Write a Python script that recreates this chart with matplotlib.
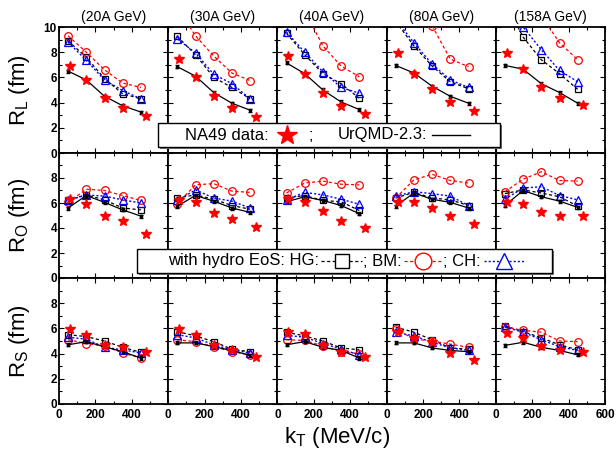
import matplotlib
matplotlib.use('Agg')
import matplotlib.pyplot as plt
from matplotlib.lines import Line2D
from matplotlib.patches import Rectangle

plt.rcParams['font.family'] = ['Liberation Sans', 'DejaVu Sans']

# ---------------- data ----------------
energies = ['(20A GeV)', '(30A GeV)', '(40A GeV)', '(80A GeV)', '(158A GeV)']
kt_model = [50, 150, 250, 350, 450]
kt_data = [60, 150, 250, 350, 480]

# R_L
rl_hg = [[8.9, 7.6, 5.9, 4.7, 4.3], [9.25, 7.8, 6.0, 5.2, 4.3], [9.5, 7.8, 6.3, 5.5, 4.35],
         [10.45, 8.5, 6.9, 5.65, 5.1], [12.0, 9.2, 7.4, 6.3, 5.05]]
rl_bm = [[9.3, 8.0, 6.6, 5.55, 5.2], [11.5, 9.3, 7.7, 6.35, 5.75], [13.0, 11.3, 8.5, 6.9, 6.05],
         [14.0, 12.0, 10.1, 7.45, 6.85], [15.0, 13.0, 10.9, 8.75, 7.4]]
rl_ch = [[8.8, 7.35, 5.8, 4.95, 4.3], [9.05, 7.95, 6.25, 5.5, 4.3], [9.6, 8.0, 6.45, 5.2, 4.75],
         [10.6, 8.75, 7.05, 5.8, 5.2], [12.5, 10.0, 8.2, 6.55, 5.65]]
rl_urqmd = [[6.5, 5.8, 4.5, 3.75, 3.25], [6.85, 6.1, 4.8, 3.95, 3.4], [7.15, 6.3, 5.0, 4.05, 3.45],
            [6.95, 6.35, 5.3, 4.5, 3.95], [6.95, 6.65, 5.5, 4.8, 3.95]]
rl_na49 = [[6.9, 5.8, 4.4, 3.55, 2.95], [7.45, 6.05, 4.5, 3.55, 2.85], [7.7, 6.3, 4.75, 3.75, 3.1],
           [7.9, 6.25, 5.1, 4.05, 3.35], [7.9, 6.65, 5.2, 4.4, 3.8]]

# R_O
ro_hg = [[6.25, 6.65, 6.25, 5.6, 5.45], [6.4, 6.65, 6.3, 5.8, 5.5], [6.4, 6.6, 6.2, 6.1, 5.4],
         [6.4, 6.85, 6.4, 6.25, 5.8], [6.75, 7.05, 6.8, 6.5, 5.75]]
ro_bm = [[6.05, 7.1, 7.0, 6.6, 6.2], [5.95, 7.45, 7.55, 6.95, 6.85], [6.8, 7.6, 7.75, 7.5, 7.45],
         [6.4, 7.85, 8.3, 7.8, 7.6], [6.9, 7.9, 8.5, 7.8, 7.75]]
ro_ch = [[6.2, 6.65, 6.55, 6.25, 6.0], [6.2, 7.05, 6.4, 6.15, 5.6], [6.25, 6.85, 6.65, 6.3, 5.9],
         [6.55, 6.9, 6.75, 6.55, 5.8], [6.3, 7.2, 7.3, 6.6, 6.25]]
ro_urqmd = [[5.6, 6.6, 6.05, 5.45, 4.95], [5.75, 6.6, 6.15, 5.6, 5.25], [6.1, 6.5, 6.2, 5.8, 5.15],
            [5.75, 6.8, 6.3, 6.05, 5.6], [5.8, 7.0, 6.5, 6.15, 5.65]]
ro_na49 = [[6.3, 5.95, 5.0, 4.55, 3.55], [6.2, 6.05, 5.2, 4.7, 4.05], [6.3, 6.05, 5.35, 4.6, 4.0],
           [6.05, 6.05, 5.6, 4.95, 4.3], [6.05, 5.95, 5.3, 5.0, 5.0]]

# R_S
rs_hg = [[5.5, 5.35, 5.0, 4.5, 4.1], [5.75, 5.4, 4.95, 4.35, 4.15], [5.7, 5.4, 5.0, 4.45, 4.3],
         [6.1, 5.7, 5.1, 4.45, 4.35], [6.2, 5.75, 5.25, 4.7, 4.3]]
rs_bm = [[5.1, 4.8, 4.6, 4.05, 3.65], [5.1, 4.95, 4.55, 4.15, 3.9], [5.1, 5.05, 4.6, 4.15, 4.0],
         [5.95, 5.15, 5.0, 4.75, 4.5], [6.1, 5.85, 5.7, 5.0, 4.95]]
rs_ch = [[5.3, 5.15, 4.5, 4.3, 4.05], [5.5, 5.25, 4.7, 4.3, 4.05], [5.45, 5.3, 4.8, 4.35, 3.9],
         [5.7, 5.4, 4.9, 4.45, 4.25], [6.1, 5.7, 5.1, 4.55, 4.25]]
rs_urqmd = [[4.7, 4.95, 4.55, 4.15, 3.65], [4.85, 4.85, 4.55, 4.25, 3.85], [4.7, 4.95, 4.5, 4.25, 3.65],
            [4.85, 4.85, 4.45, 4.25, 4.15], [4.65, 4.9, 4.5, 4.25, 3.9]]
rs_na49 = [[5.95, 5.5, 4.65, 4.5, 4.1], [5.95, 5.5, 4.7, 4.3, 3.7], [5.7, 5.55, 4.65, 4.15, 3.7],
           [5.75, 5.25, 4.95, 4.05, 3.5], [5.6, 5.25, 4.6, 4.3, 4.15]]

rows = [
    ('R$_\\mathregular{L}$ (fm)', rl_hg, rl_bm, rl_ch, rl_urqmd, rl_na49),
    ('R$_\\mathregular{O}$ (fm)', ro_hg, ro_bm, ro_ch, ro_urqmd, ro_na49),
    ('R$_\\mathregular{S}$ (fm)', rs_hg, rs_bm, rs_ch, rs_urqmd, rs_na49),
]

# ---------------- figure ----------------
W, H = 616, 455
fig = plt.figure(figsize=(W / 100, H / 100), dpi=100)


def fx(x):
    return x / W


def fy(y):
    return 1 - y / H


left, right = 59, 605
row_edges = [27, 153, 278, 404]
pw = (right - left) / 5

dash = (0, (2.5, 2))
dots = (0, (1.5, 1.5))
for r, (ylab, hg, bm, ch, urq, na49) in enumerate(rows):
    top, bot = row_edges[r], row_edges[r + 1]
    for c in range(5):
        ax = fig.add_axes([fx(left + c * pw), fy(bot), pw / W, (bot - top) / H])
        ax.plot(kt_model, hg[c], color='black', ls=dash, lw=0.9, marker='s', ms=4.5,
                mfc='none', mec='black', mew=0.9, zorder=3)
        ax.plot(kt_model, bm[c], color='red', ls=dash, lw=0.9, marker='o', ms=5.5,
                mfc='none', mec='red', mew=0.9, zorder=3)
        ax.plot(kt_model, ch[c], color='blue', ls=dots, lw=1.0, marker='^', ms=5.5,
                mfc='none', mec='blue', mew=0.9, zorder=4)
        ax.errorbar(kt_model, urq[c], yerr=0.12, color='black', lw=0.9, marker='s', ms=1.5,
                    capsize=1.5, elinewidth=0.8, zorder=5)
        ax.plot(kt_data, na49[c], ls='none', marker='*', ms=7.5, color='red', mec='red', zorder=6)

        ax.set_xlim(0, 600)
        ax.set_ylim(0, 10)
        ax.set_xticks([0, 200, 400, 600])
        ax.set_xticks([100, 300, 500], minor=True)
        ax.set_yticks([0, 2, 4, 6, 8, 10])
        ax.set_yticks([1, 3, 5, 7, 9], minor=True)
        ax.tick_params(which='both', direction='in', top=True, right=True, width=0.8)
        ax.tick_params(which='major', length=3.5)
        ax.tick_params(which='minor', length=2)
        for s in ax.spines.values():
            s.set_linewidth(1.3)

        if r == 2:
            xl = ['0', '200', '400', '600' if c == 4 else '']
            ax.set_xticklabels(xl, fontweight='bold', fontsize=8.5)
        else:
            ax.set_xticklabels([])
        if c == 0:
            yl = ['0', '2', '4', '6', '8', '10' if r == 0 else '']
            ax.set_yticklabels(yl, fontweight='bold', fontsize=8.5)
            ax.tick_params(axis='y', pad=1.5)
        else:
            ax.set_yticklabels([])
        if r == 0:
            ax.set_title(energies[c], fontsize=10, pad=4)

    fig.text(fx(20), fy((top + bot) / 2), ylab, rotation=90, fontsize=16,
             ha='center', va='center')

fig.text(fx(337), fy(437), 'k$_\\mathregular{T}$ (MeV/c)', fontsize=16, ha='center', va='center')


# ---------------- legend boxes ----------------
def box(x0, y0, x1, y1):
    fig.add_artist(Rectangle((fx(x0 + 2), fy(y1 + 2)), (x1 - x0) / W, (y1 - y0) / H,
                             transform=fig.transFigure, facecolor='0.45', edgecolor='none', zorder=10))
    fig.add_artist(Rectangle((fx(x0), fy(y1)), (x1 - x0) / W, (y1 - y0) / H,
                             transform=fig.transFigure, facecolor='white', edgecolor='black',
                             lw=1.0, zorder=11))


def ftext(x, y, s):
    fig.text(fx(x), fy(y), s, fontsize=12, ha='left', va='center', zorder=12)


def fline(x0, x1, y, **kw):
    fig.add_artist(Line2D([fx(x0), fx(x1)], [fy(y), fy(y)], transform=fig.transFigure,
                          zorder=12, **kw))


def fmark(x, y, **kw):
    fig.add_artist(Line2D([fx(x)], [fy(y)], transform=fig.transFigure, ls='none',
                          zorder=13, **kw))


# box 1
box(158, 123, 500, 147)
yc = 135
ftext(185, yc, 'NA49 data:')
fmark(287, yc, marker='*', ms=15, color='red')
ftext(309, yc, ';')
ftext(338, yc, 'UrQMD-2.3:')
fline(432, 470, yc, color='black', lw=1.0)

# box 2
box(137, 249, 552, 273)
yc = 261
ftext(168, yc, 'with hydro EoS: HG:')
fline(321, 362, yc, color='black', ls=dash, lw=0.9)
fmark(342, yc, marker='s', ms=10, mfc='white', mec='black', mew=1.0)
ftext(363, yc, '; BM:')
fline(404, 443, yc, color='red', ls=dash, lw=0.9)
fmark(423, yc, marker='o', ms=12, mfc='white', mec='red', mew=1.0)
ftext(443, yc, '; CH:')
fline(484, 524, yc, color='blue', ls=dots, lw=1.0)
fmark(504, yc, marker='^', ms=12, mfc='white', mec='blue', mew=1.0)

fig.savefig('out.png', dpi=100)
